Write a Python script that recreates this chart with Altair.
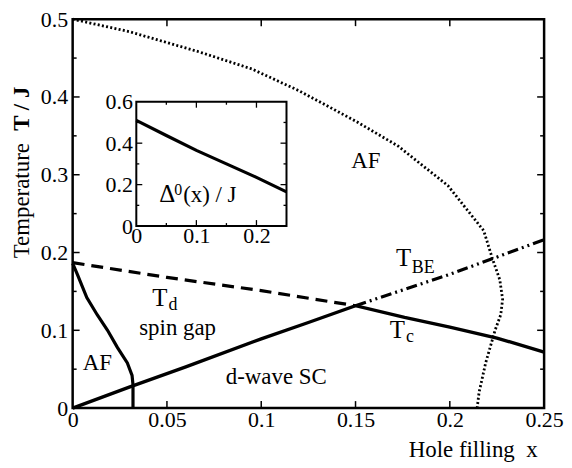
import altair as alt
import pandas as pd

# ---------------- data ----------------
# AF (Neel) boundary, dotted, upper part of diagram (ordered along curve)
af_hi_x = [0, 0.03, 0.067, 0.095, 0.12, 0.15, 0.1725, 0.199, 0.218, 0.2226, 0.2265, 0.228, 0.227, 0.224, 0.219, 0.2155, 0.2145]
af_hi_y = [0.5, 0.484, 0.458, 0.436, 0.408, 0.369, 0.337, 0.286, 0.228, 0.192, 0.165, 0.14, 0.12, 0.10, 0.058, 0.02, 0.0]

# AF boundary at low doping (solid)
af_lo_x = [0, 0.0025, 0.0075, 0.013, 0.0185, 0.0237, 0.029, 0.0315, 0.032, 0.032]
af_lo_y = [0.186, 0.172, 0.142, 0.12, 0.10, 0.078, 0.058, 0.042, 0.03, 0.0]

# T_d (dashed)
td_x = [0, 0.05, 0.1, 0.15]
td_y = [0.187, 0.168, 0.151, 0.1316]

# T_BE (dash-dot-dot)
tbe_x = [0.15, 0.2, 0.25]
tbe_y = [0.1316, 0.172, 0.2165]

# T_c (solid)
tc_x = [0, 0.03, 0.06, 0.1, 0.125, 0.15, 0.176, 0.2, 0.225, 0.25]
tc_y = [0, 0.027, 0.053, 0.089, 0.11, 0.1316, 0.1165, 0.104, 0.09, 0.072]

# inset: Delta^0(x)/J
ins_x = [0, 0.05, 0.1, 0.15, 0.2, 0.25]
ins_y = [0.51, 0.437, 0.365, 0.30, 0.235, 0.165]

# tick values
main_x_ticks = [0, 0.05, 0.1, 0.15, 0.2, 0.25]
main_y_ticks = [0, 0.1, 0.2, 0.3, 0.4, 0.5]
main_x_inner = [0.05, 0.1, 0.15, 0.2]
main_y_major = [0.1, 0.2, 0.3, 0.4]
main_y_minor = [0.05, 0.15, 0.25, 0.35, 0.45]
ins_x_ticks = [0, 0.1, 0.2]
ins_y_ticks = [0, 0.2, 0.4, 0.6]
ins_x_major = [0.1, 0.2]
ins_x_minor = [0.05, 0.15]
ins_y_major = [0.2, 0.4]
ins_y_minor = [0.1, 0.3, 0.5]

# annotation texts (text, x, y, font size)
lab_text = ["AF", "AF", "T", "d", "spin gap", "d-wave SC", "T", "BE", "T", "c"]
lab_x = [0.1477, 0.0053, 0.0422, 0.0508, 0.0353, 0.0812, 0.1714, 0.1798, 0.1682, 0.1768]
lab_y = [0.309, 0.049, 0.1316, 0.1266, 0.0937, 0.0304, 0.1823, 0.1734, 0.0899, 0.0848]
lab_size = [23, 23, 25, 18, 23, 23, 25, 18, 25, 18]

ins_lab_text = ["\u0394", "0", "(x) / J"]
ins_lab_x = [0.038, 0.063, 0.078]
ins_lab_y = [0.115, 0.149, 0.115]
ins_lab_size = [25, 16, 23]

# ---------------- layout ----------------
W, H = 474, 391
IN_X0, IN_X1 = 64, 215      # inset pixel range (x)
IN_Y0, IN_Y1 = 208, 83      # inset pixel range (y, bottom -> top)
FONT = "Liberation Serif, Times New Roman, serif"
NB = "\u00a0"


def df_line(xs, ys):
    return pd.DataFrame({"x": xs, "y": ys, "i": list(range(len(xs)))})


xs = alt.Scale(domain=[0, 0.25], nice=False, zero=False)
ys = alt.Scale(domain=[0, 0.5], nice=False, zero=False)

x_axis = alt.Axis(values=main_x_ticks, format="~g", ticks=False, domain=False, grid=False,
                  labelPadding=2, labelFlush=False, title="Hole filling" + NB + NB + "x",
                  titleAlign="right", titleBaseline="alphabetic", titleX=467, titleY=49,
                  titleAnchor="end")
y_axis = alt.Axis(values=main_y_ticks, format="~g", ticks=False, domain=False, grid=False,
                  labelPadding=5, title="Temperature", titleAngle=270,
                  titleAlign="center", titleBaseline="alphabetic", titleX=-44, titleY=182)

X = alt.X("x:Q", scale=xs, axis=x_axis)
Y = alt.Y("y:Q", scale=ys, axis=y_axis)


def mline(xv, yv, dash=None, width=3.0):
    kw = dict(color="black", strokeWidth=width, clip=False)
    if dash:
        kw["strokeDash"] = dash
    return alt.Chart(df_line(xv, yv)).mark_line(**kw).encode(x=X, y=Y, order="i:Q")


l_af_hi = mline(af_hi_x, af_hi_y, dash=[2, 2.3], width=2.8)
l_af_lo = mline(af_lo_x, af_lo_y, width=3.2)
l_td = mline(td_x, td_y, dash=[12, 7], width=3.2)
l_tbe = mline(tbe_x, tbe_y, dash=[11, 4, 2, 4, 2, 4], width=3.2)
l_tc = mline(tc_x, tc_y, width=3.4)

# main inward ticks
tx = pd.DataFrame({"x": main_x_inner})
t_bot = alt.Chart(tx).mark_rule(color="black", strokeWidth=1.5).encode(x=X, y=alt.value(H), y2=alt.value(H - 7))
t_top = alt.Chart(tx).mark_rule(color="black", strokeWidth=1.5).encode(x=X, y=alt.value(0), y2=alt.value(7))
tyM = pd.DataFrame({"y": main_y_major})
tym = pd.DataFrame({"y": main_y_minor})
t_lM = alt.Chart(tyM).mark_rule(color="black", strokeWidth=1.5).encode(y=Y, x=alt.value(0), x2=alt.value(7))
t_rM = alt.Chart(tyM).mark_rule(color="black", strokeWidth=1.5).encode(y=Y, x=alt.value(W), x2=alt.value(W - 7))
t_lm = alt.Chart(tym).mark_rule(color="black", strokeWidth=1.5).encode(y=Y, x=alt.value(0), x2=alt.value(4))
t_rm = alt.Chart(tym).mark_rule(color="black", strokeWidth=1.5).encode(y=Y, x=alt.value(W), x2=alt.value(W - 4))

labels = pd.DataFrame({"t": lab_text, "x": lab_x, "y": lab_y, "s": lab_size})
t_labels = alt.Chart(labels).mark_text(align="left", baseline="alphabetic", font=FONT, color="black").encode(
    x=X, y=Y, text="t:N", size=alt.Size("s:Q", scale=None, legend=None))

tj = alt.Chart(pd.DataFrame({"t": ["T / J"]})).mark_text(
    angle=270, align="center", baseline="alphabetic", font=FONT, fontSize=23, fontWeight="bold", color="black"
).encode(text="t:N", x=alt.value(-44), y=alt.value(90))

main = alt.layer(l_af_hi, l_td, l_tbe, l_tc, l_af_lo, t_bot, t_top, t_lM, t_rM, t_lm, t_rm, t_labels, tj)

# ---------------- inset ----------------
ixs = alt.Scale(domain=[0, 0.25], range=[IN_X0, IN_X1], nice=False, zero=False)
iys = alt.Scale(domain=[0, 0.6], range=[IN_Y0, IN_Y1], nice=False, zero=False)
ix_axis = alt.Axis(orient="bottom", offset=-(H - IN_Y0), values=ins_x_ticks, format="~g", ticks=False,
                   domain=False, grid=False, labelPadding=0, labelFlush=False, title=None)
iy_axis = alt.Axis(orient="left", offset=-IN_X0, values=ins_y_ticks, format="~g", ticks=False,
                   domain=False, grid=False, labelPadding=4, labelFlush=False, title=None)
IX = alt.X("x:Q", scale=ixs, axis=ix_axis)
IY = alt.Y("y:Q", scale=iys, axis=iy_axis)

frame = alt.Chart(pd.DataFrame({"x": [0], "x2": [0.25], "y": [0], "y2": [0.6]})).mark_rect(
    fill="white", stroke="black", strokeWidth=2).encode(x=IX, x2="x2:Q", y=IY, y2="y2:Q")
ins_line = alt.Chart(df_line(ins_x, ins_y)).mark_line(color="black", strokeWidth=3.2).encode(x=IX, y=IY, order="i:Q")

ixM = pd.DataFrame({"x": ins_x_major})
ixm = pd.DataFrame({"x": ins_x_minor})
iyM = pd.DataFrame({"y": ins_y_major})
iym = pd.DataFrame({"y": ins_y_minor})
rk = dict(color="black", strokeWidth=1.3)
it = [
    alt.Chart(ixM).mark_rule(**rk).encode(x=IX, y=alt.value(IN_Y0), y2=alt.value(IN_Y0 - 6)),
    alt.Chart(ixM).mark_rule(**rk).encode(x=IX, y=alt.value(IN_Y1), y2=alt.value(IN_Y1 + 6)),
    alt.Chart(ixm).mark_rule(**rk).encode(x=IX, y=alt.value(IN_Y0), y2=alt.value(IN_Y0 - 3)),
    alt.Chart(ixm).mark_rule(**rk).encode(x=IX, y=alt.value(IN_Y1), y2=alt.value(IN_Y1 + 3)),
    alt.Chart(iyM).mark_rule(**rk).encode(y=IY, x=alt.value(IN_X0), x2=alt.value(IN_X0 + 6)),
    alt.Chart(iyM).mark_rule(**rk).encode(y=IY, x=alt.value(IN_X1), x2=alt.value(IN_X1 - 6)),
    alt.Chart(iym).mark_rule(**rk).encode(y=IY, x=alt.value(IN_X0), x2=alt.value(IN_X0 + 3)),
    alt.Chart(iym).mark_rule(**rk).encode(y=IY, x=alt.value(IN_X1), x2=alt.value(IN_X1 - 3)),
]

ilab = pd.DataFrame({"t": ins_lab_text, "x": ins_lab_x, "y": ins_lab_y, "s": ins_lab_size})
ins_text = alt.Chart(ilab).mark_text(align="left", baseline="alphabetic", font=FONT, color="black").encode(
    x=IX, y=IY, text="t:N", size=alt.Size("s:Q", scale=None, legend=None))

inset = alt.layer(frame, ins_line, *it, ins_text)

chart = alt.layer(main, inset).resolve_scale(x="independent", y="independent").properties(
    width=W, height=H,
    padding={"left": 65, "top": 10, "right": 20, "bottom": 57},
    autosize=alt.AutoSizeParams(type="none"),
).configure_view(stroke="black", strokeWidth=2.5).configure_axis(
    labelFont=FONT, labelFontSize=22, labelColor="black",
    titleFont=FONT, titleFontSize=23, titleColor="black", titleFontWeight="normal",
)

chart.save("out.html", embed_options={"renderer": "svg", "actions": False})
